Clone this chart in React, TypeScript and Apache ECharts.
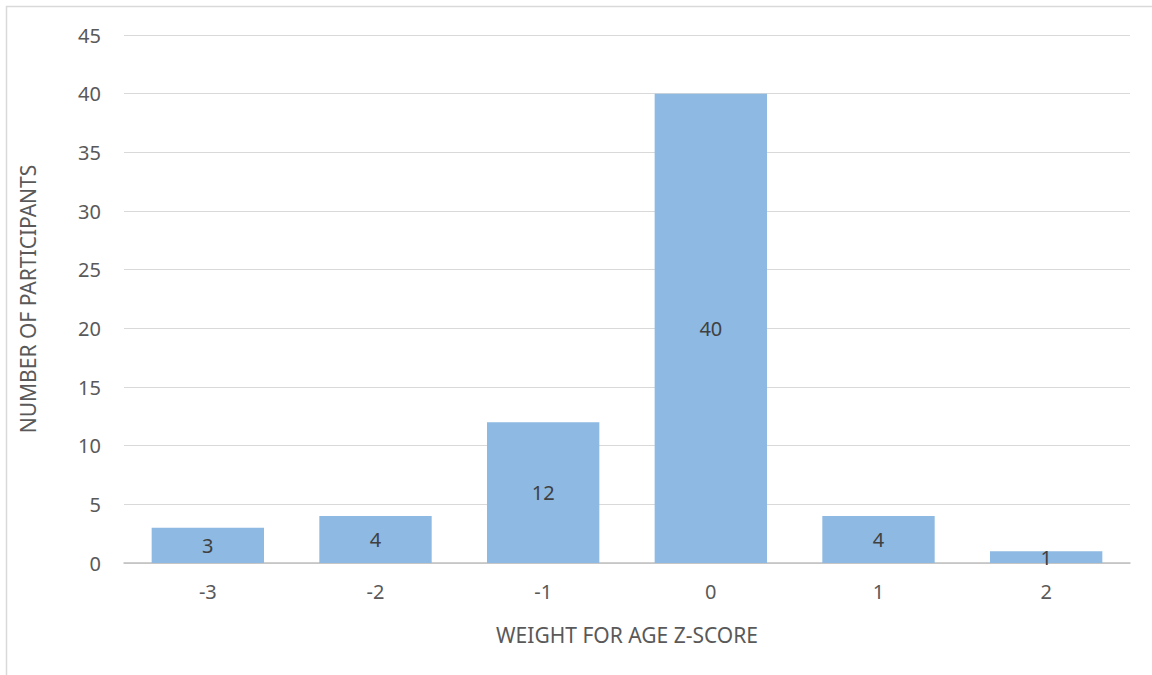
import React, { useEffect, useRef } from "react";
import * as echarts from "echarts";

const categories = ["-3", "-2", "-1", "0", "1", "2"];
const participants = [3, 4, 12, 40, 4, 1];
const xAxisTitle = "WEIGHT FOR AGE Z-SCORE";
const yAxisTitle = "NUMBER OF PARTICIPANTS";

export default function App() {
  const ref = useRef<HTMLDivElement>(null);
  useEffect(() => {
    const chart = echarts.init(ref.current!, null, { renderer: "svg" });
    const font = "'Noto Sans', sans-serif";
    chart.setOption({
      animation: false,
      backgroundColor: "#ffffff",
      graphic: [
        {
          type: "rect",
          shape: { x: 6.5, y: 6.5, width: 1160, height: 700 },
          style: { fill: "none", stroke: "#d9d9d9", lineWidth: 1.5 },
          silent: true,
        },
      ],
      grid: { left: 124, right: 22, top: 35, bottom: 112 },
      xAxis: {
        type: "category",
        data: categories,
        name: xAxisTitle,
        nameLocation: "middle",
        nameGap: 61,
        nameTextStyle: { color: "#595959", fontSize: 21, fontFamily: font },
        axisLine: { lineStyle: { color: "#bfbfbf", width: 1.5 } },
        axisTick: { show: false },
        axisLabel: { color: "#595959", fontSize: 20, fontFamily: font, margin: 18 },
      },
      yAxis: {
        type: "value",
        min: 0,
        max: 45,
        interval: 5,
        name: yAxisTitle,
        nameLocation: "middle",
        nameGap: 86,
        nameTextStyle: { color: "#595959", fontSize: 21, fontFamily: font },
        axisLine: { show: false },
        axisTick: { show: false },
        splitLine: { lineStyle: { color: "#d9d9d9", width: 1 } },
        axisLabel: { color: "#595959", fontSize: 20, fontFamily: font, margin: 23 },
      },
      series: [
        {
          type: "bar",
          data: participants,
          barCategoryGap: "33%",
          itemStyle: { color: "#8db9e2" },
          label: {
            show: true,
            position: "inside",
            color: "#404040",
            fontSize: 20,
            fontFamily: font,
          },
        },
      ],
    });
    return () => chart.dispose();
  }, []);
  return (
    <div
      ref={ref}
      style={{ position: "fixed", left: 0, top: 0, width: 1152, height: 675 }}
    />
  );
}
